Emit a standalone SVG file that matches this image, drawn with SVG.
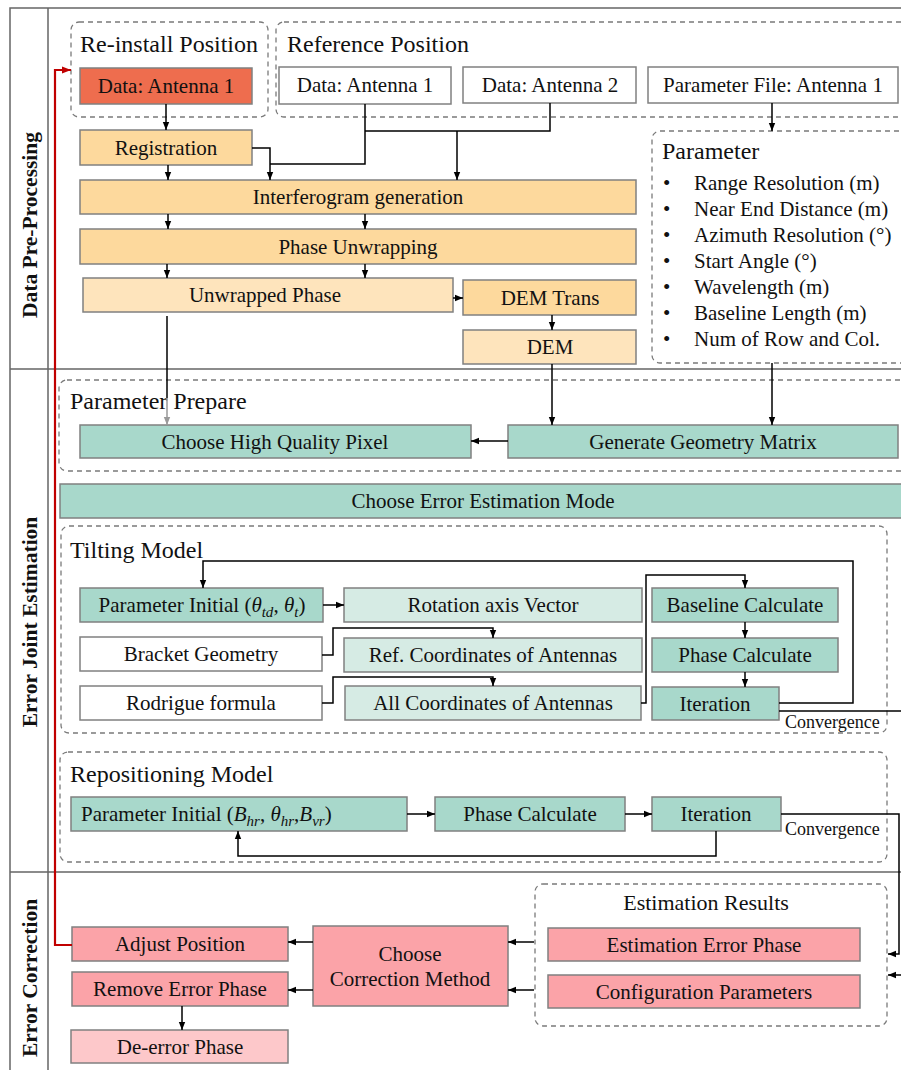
<svg xmlns="http://www.w3.org/2000/svg" width="901" height="1070" viewBox="0 0 901 1070">
<defs>
<marker id="arr" viewBox="0 0 10 10" refX="10" refY="5" markerWidth="8" markerHeight="8" markerUnits="userSpaceOnUse" orient="auto"><path d="M0,1 L10,5 L0,9 z" fill="#000"/></marker>
<marker id="arrg" viewBox="0 0 10 10" refX="10" refY="5" markerWidth="8" markerHeight="8" markerUnits="userSpaceOnUse" orient="auto"><path d="M0,1 L10,5 L0,9 z" fill="#999"/></marker>
<marker id="arrr" viewBox="0 0 10 10" refX="10" refY="5" markerWidth="9" markerHeight="9" markerUnits="userSpaceOnUse" orient="auto"><path d="M0,1 L10,5 L0,9 z" fill="#C00000"/></marker>
</defs>
<style>
text{font-family:"Liberation Serif","Times New Roman",serif;fill:#111}
.t{font-size:21px;text-anchor:middle}
.ti{font-size:24px}
.sec{font-size:21.5px;font-weight:bold;text-anchor:middle}
.cv{font-size:18px}
.b{stroke:#808080;stroke-width:1.5}
.red{fill:#EE6D4E}
.wh{fill:#fff}
.or{fill:#FDD99D}
.lor{fill:#FEE4BC}
.te{fill:#A8D8CB}
.lte{fill:#D6EBE4}
.pk{fill:#FBA3A8}
.lpk{fill:#FDC8CA}
.dash{fill:none;stroke:#7a7a7a;stroke-width:1.3;stroke-dasharray:5 4}
.frame{stroke:#666;stroke-width:1.5;fill:none}
.c{fill:none;stroke:#000;stroke-width:1.5}
.ca{fill:none;stroke:#000;stroke-width:1.5;marker-end:url(#arr)}
.m{font-style:italic}
</style>
<rect width="901" height="1070" fill="#fff"/>
<g id="frame">
<path class="frame" d="M10,1070 V8 H901 M48,8 V1070 M10,369 H901 M10,872 H901"/>
<text class="sec" transform="translate(37,225) rotate(-90)">Data Pre-Processing</text>
<text class="sec" transform="translate(37,622) rotate(-90)">Error Joint Estimation</text>
<text class="sec" transform="translate(37,978) rotate(-90)">Error Correction</text>
</g>
<g id="groups">
<rect class="dash" x="71" y="22" width="197" height="95" rx="8"/>
<text class="ti" x="80" y="52">Re-install Position</text>
<rect class="dash" x="276" y="22" width="640" height="95" rx="8"/>
<text class="ti" x="287" y="52">Reference Position</text>
<rect class="dash" x="652" y="131" width="270" height="232" rx="8"/>
<text class="ti" x="662" y="159">Parameter</text>
<rect class="dash" x="59" y="380" width="860" height="91" rx="8"/>
<text class="ti" x="70" y="409">Parameter Prepare</text>
<rect class="dash" x="61" y="526" width="826" height="207" rx="8"/>
<text class="ti" x="70" y="558">Tilting Model</text>
<rect class="dash" x="60" y="752" width="827" height="110" rx="8"/>
<text class="ti" x="70" y="782">Repositioning Model</text>
<rect class="dash" x="535" y="884" width="352" height="142" rx="8"/>
<text class="t" x="706" y="910" style="font-size:22px">Estimation Results</text>
</g>
<g id="params">
<g style="font-size:21px">
<text x="663" y="190">•</text><text x="694" y="190">Range Resolution (m)</text>
<text x="663" y="216">•</text><text x="694" y="216">Near End Distance (m)</text>
<text x="663" y="242">•</text><text x="694" y="242">Azimuth Resolution (°)</text>
<text x="663" y="268">•</text><text x="694" y="268">Start Angle (°)</text>
<text x="663" y="294">•</text><text x="694" y="294">Wavelength (m)</text>
<text x="663" y="320">•</text><text x="694" y="320">Baseline Length (m)</text>
<text x="663" y="346">•</text><text x="694" y="346">Num of Row and Col.</text>
</g>
</g>
<g id="n-reinstall-a1"><rect class="b red" x="80" y="68" width="172" height="36"/><text class="t" x="166" y="93">Data: Antenna 1</text></g>
<g id="n-ref-a1"><rect class="b wh" x="279" y="67" width="172" height="37"/><text class="t" x="365" y="92">Data: Antenna 1</text></g>
<g id="n-ref-a2"><rect class="b wh" x="463" y="67" width="173" height="36"/><text class="t" x="550" y="92">Data: Antenna 2</text></g>
<g id="n-paramfile"><rect class="b wh" x="648" y="67" width="250" height="36"/><text class="t" x="773" y="92">Parameter File: Antenna 1</text></g>
<g id="n-registration"><rect class="b or" x="80" y="130" width="172" height="35"/><text class="t" x="166" y="155">Registration</text></g>
<g id="n-interf"><rect class="b or" x="80" y="180" width="556" height="34"/><text class="t" x="358" y="204">Interferogram generation</text></g>
<g id="n-unwrap"><rect class="b or" x="80" y="229" width="556" height="35"/><text class="t" x="358" y="254">Phase Unwrapping</text></g>
<g id="n-unwrapped"><rect class="b lor" x="83" y="278" width="370" height="34"/><text class="t" x="265" y="302">Unwrapped Phase</text></g>
<g id="n-demtrans"><rect class="b or" x="463" y="280" width="173" height="35"/><text class="t" x="550" y="305">DEM Trans</text></g>
<g id="n-dem"><rect class="b lor" x="463" y="330" width="173" height="34"/><text class="t" x="550" y="354">DEM</text></g>
<g id="n-hqp"><rect class="b te" x="80" y="425" width="391" height="33"/><text class="t" x="275" y="449">Choose High Quality Pixel</text></g>
<g id="n-geom"><rect class="b te" x="508" y="425" width="390" height="33"/><text class="t" x="703" y="449">Generate Geometry Matrix</text></g>
<g id="n-mode"><rect class="b te" x="60" y="484" width="850" height="34"/><text class="t" x="483" y="508">Choose Error Estimation Mode</text></g>
<g id="n-tinit"><rect class="b te" x="80" y="588" width="243" height="34"/><text class="t" x="202" y="612">Parameter Initial (<tspan class="m">θ</tspan><tspan class="m" dy="5" style="font-size:15px">td</tspan><tspan dy="-5">, </tspan><tspan class="m">θ</tspan><tspan class="m" dy="5" style="font-size:15px">t</tspan><tspan dy="-5">)</tspan></text></g>
<g id="n-rot"><rect class="b lte" x="344" y="588" width="298" height="34"/><text class="t" x="493" y="612">Rotation axis Vector</text></g>
<g id="n-bracket"><rect class="b wh" x="80" y="637" width="242" height="34"/><text class="t" x="201" y="661">Bracket Geometry</text></g>
<g id="n-refcoord"><rect class="b lte" x="344" y="638" width="298" height="34"/><text class="t" x="493" y="662">Ref. Coordinates of Antennas</text></g>
<g id="n-rodrigue"><rect class="b wh" x="80" y="686" width="242" height="34"/><text class="t" x="201" y="710">Rodrigue formula</text></g>
<g id="n-allcoord"><rect class="b lte" x="345" y="686" width="296" height="34"/><text class="t" x="493" y="710">All Coordinates of Antennas</text></g>
<g id="n-baseline"><rect class="b te" x="652" y="588" width="186" height="34"/><text class="t" x="745" y="612">Baseline Calculate</text></g>
<g id="n-tphase"><rect class="b te" x="652" y="638" width="186" height="34"/><text class="t" x="745" y="662">Phase Calculate</text></g>
<g id="n-titer"><rect class="b te" x="652" y="687" width="127" height="33"/><text class="t" x="715" y="711">Iteration</text></g>
<text class="cv" x="785" y="728">Convergence</text>
<g id="n-rinit"><rect class="b te" x="71" y="797" width="336" height="34"/><text class="t" x="81" y="821" style="text-anchor:start">Parameter Initial (<tspan class="m">B</tspan><tspan class="m" dy="5" style="font-size:15px">hr</tspan><tspan dy="-5">, </tspan><tspan class="m">θ</tspan><tspan class="m" dy="5" style="font-size:15px">hr</tspan><tspan dy="-5">,</tspan><tspan class="m">B</tspan><tspan class="m" dy="5" style="font-size:15px">vr</tspan><tspan dy="-5">)</tspan></text></g>
<g id="n-rphase"><rect class="b te" x="435" y="797" width="190" height="34"/><text class="t" x="530" y="821">Phase Calculate</text></g>
<g id="n-riter"><rect class="b te" x="652" y="797" width="129" height="34"/><text class="t" x="716" y="821">Iteration</text></g>
<text class="cv" x="785" y="835">Convergence</text>
<g id="n-errphase"><rect class="b pk" x="548" y="928" width="312" height="33"/><text class="t" x="704" y="952">Estimation Error Phase</text></g>
<g id="n-config"><rect class="b pk" x="548" y="975" width="312" height="33"/><text class="t" x="704" y="999">Configuration Parameters</text></g>
<g id="n-method"><rect class="b pk" x="313" y="926" width="195" height="80"/><text class="t" x="410" y="961">Choose</text><text class="t" x="410" y="986">Correction Method</text></g>
<g id="n-adjust"><rect class="b pk" x="72" y="927" width="216" height="34"/><text class="t" x="180" y="951">Adjust Position</text></g>
<g id="n-remove"><rect class="b pk" x="72" y="972" width="216" height="34"/><text class="t" x="180" y="996">Remove Error Phase</text></g>
<g id="n-deerror"><rect class="b lpk" x="71" y="1030" width="217" height="33"/><text class="t" x="180" y="1054">De-error Phase</text></g>
<g id="connectors">
<path class="ca" d="M166,104 V130"/>
<path class="ca" d="M252,148 H270 V180"/>
<path class="c" d="M365,104 V164 H270"/>
<path class="c" d="M365,131 H550 V103"/>
<path class="ca" d="M457,131 V180"/>
<path class="ca" d="M168,165 V180"/>
<path class="ca" d="M168,214 V229"/>
<path class="ca" d="M365,214 V229"/>
<path class="ca" d="M167,264 V278"/>
<path class="ca" d="M365,264 V278"/>
<path class="ca" d="M453,298 H463"/>
<path class="ca" d="M552,315 V330"/>
<path class="ca" d="M772,103 V131"/>
<path class="c" d="M167,316 V398"/>
<path d="M167,398 V425" fill="none" stroke="#999" stroke-width="1.5" marker-end="url(#arrg)"/>
<path class="ca" d="M552,364 V425"/>
<path class="ca" d="M772,363 V425"/>
<path class="ca" d="M508,441 H471"/>
<path class="ca" d="M779,703 H853 V561 H203 V588"/>
<path class="ca" d="M323,605 H344"/>
<path class="ca" d="M322,655 H333 V628 H493 V638"/>
<path class="ca" d="M322,703 H333 V677 H493 V686"/>
<path class="ca" d="M641,703 H646 V575 H745 V588"/>
<path class="ca" d="M745,622 V638"/>
<path class="ca" d="M745,672 V687"/>
<path class="c" d="M779,711 H901"/>
<path class="ca" d="M407,814 H435"/>
<path class="ca" d="M625,814 H652"/>
<path class="ca" d="M716,831 V856 H238 V831"/>
<path class="ca" d="M781,814 H899 V954 H888"/>
<path class="ca" d="M901,975 H888"/>
<path class="ca" d="M534,942 H508"/>
<path class="ca" d="M534,990 H508"/>
<path class="ca" d="M313,942 H288"/>
<path class="ca" d="M313,990 H288"/>
<path class="ca" d="M182,1006 V1030"/>
<path d="M72,945 H55 V70 H71" fill="none" stroke="#C00000" stroke-width="2.2" marker-end="url(#arrr)"/>
</g>
</svg>
